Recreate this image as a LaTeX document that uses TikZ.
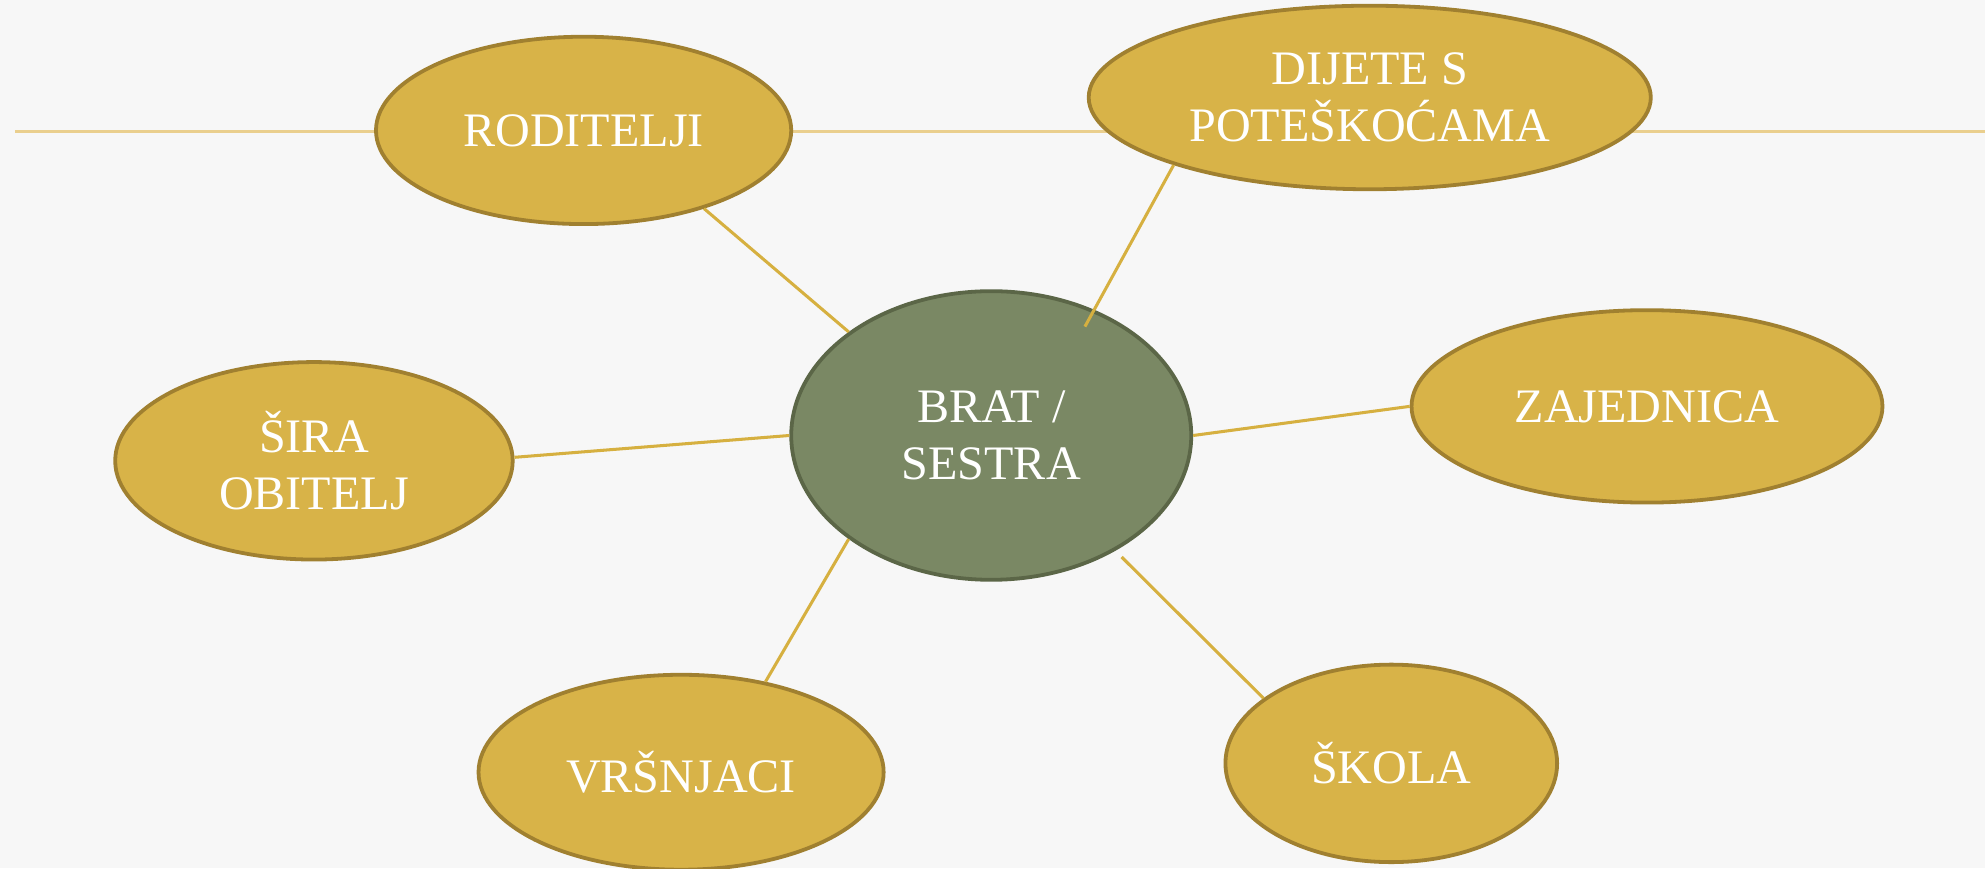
\documentclass[tikz,border=0pt]{standalone}
\usepackage{fontspec}
\setmainfont{Liberation Serif}
\usetikzlibrary{shapes.geometric}
\definecolor{goldfill}{HTML}{D8B348}
\definecolor{goldedge}{HTML}{A08030}
\definecolor{greenfill}{HTML}{7A8864}
\definecolor{greenedge}{HTML}{5B6647}
\definecolor{linkgold}{HTML}{D6B040}
\definecolor{hlinegold}{HTML}{EACF8E}
\definecolor{bg}{HTML}{F7F7F7}
\tikzset{
  bubble/.style={ellipse, inner sep=0pt, fill=goldfill, draw=goldedge, line width=3pt,
    text=white, align=center, font=\fontsize{38}{45}\selectfont},
  hub/.style={bubble, fill=greenfill, draw=greenedge},
  link/.style={draw=linkgold, line width=2.4pt},
  hline/.style={draw=hlinegold, line width=2.6pt}
}
\begin{document}
\begin{tikzpicture}[x=1pt,y=-1pt]
\useasboundingbox (0,0) rectangle (1568,686);
\fill[bg] (0,0) rectangle (1568,686);
\clip (0,0) rectangle (1568,686);
\coordinate (hl1) at (12,104);
\coordinate (hl2) at (1568,104);
\draw[hline] (hl1) -- (hl2);

\node[bubble, minimum width=328pt, minimum height=148pt] (rod) at (461,103) {RODITELJI};
\node[bubble, minimum width=444pt, minimum height=145pt] (dij) at (1082,77) {DIJETE S\\POTEŠKOĆAMA};
\node[hub, minimum width=316pt, minimum height=228pt] (bs) at (783,344) {BRAT /\\SESTRA};
\node[bubble, minimum width=314pt, minimum height=156pt] (sir) at (248,364) {ŠIRA\\OBITELJ};
\node[bubble, minimum width=372pt, minimum height=152pt] (zaj) at (1301,321) {ZAJEDNICA};
\node[bubble, minimum width=320pt, minimum height=154pt] (vrs) at (538,610) {VRŠNJACI};
\node[bubble, minimum width=262pt, minimum height=156pt] (sko) at (1099,603) {ŠKOLA};

\coordinate (dj) at (857,258);
\coordinate (sk) at (886,440);

\draw[link] (rod.-33) -- (bs.144);
\draw[link] (dij.199) -- (dj);
\draw[link] (sir.1.5) -- (bs.180);
\draw[link] (bs.0) -- (zaj.180);
\draw[link] (vrs.47.5) -- (bs.-144);
\draw[link] (sko.153.4) -- (sk);
\end{tikzpicture}
\end{document}
